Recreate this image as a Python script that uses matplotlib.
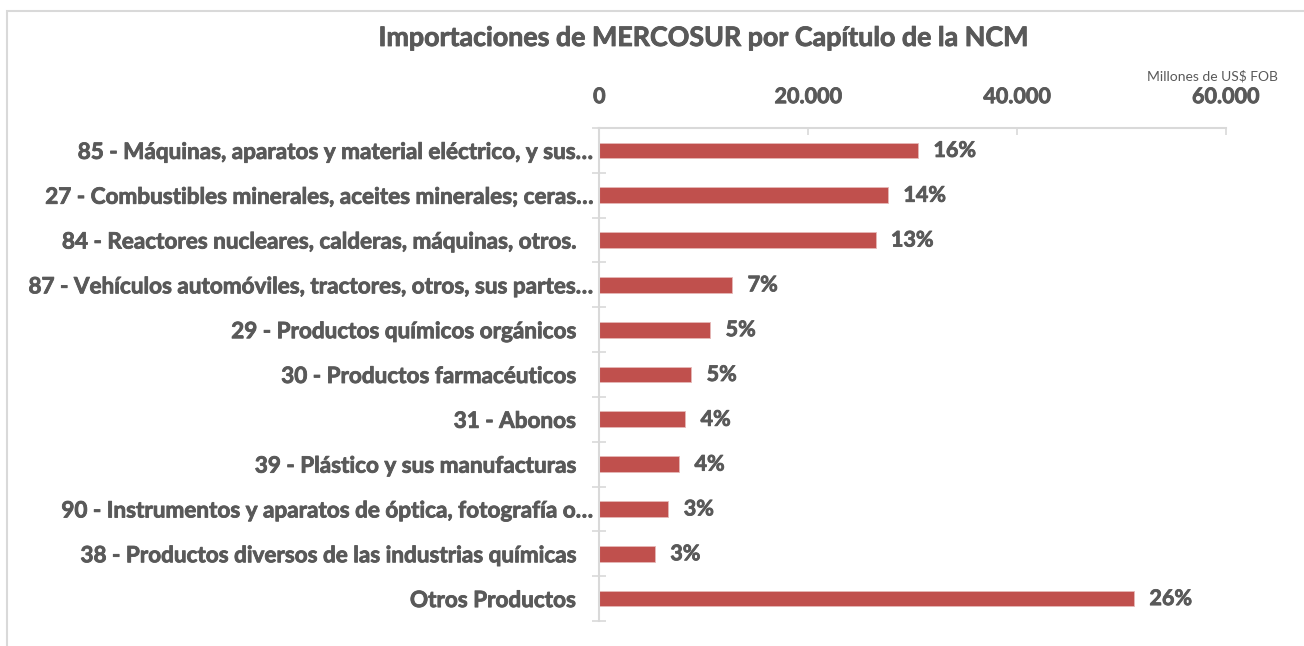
import matplotlib.pyplot as plt
import matplotlib.transforms as mtransforms
import matplotlib.patheffects as pe
from matplotlib.patches import Rectangle
import numpy as np

# chapters of the NCM, top to bottom
categories = [
    "85 - Máquinas, aparatos y material eléctrico, y sus…",
    "27 - Combustibles minerales, aceites minerales; ceras…",
    "84 - Reactores nucleares, calderas, máquinas, otros.",
    "87 - Vehículos automóviles, tractores, otros, sus partes…",
    "29 - Productos químicos orgánicos",
    "30 - Productos farmacéuticos",
    "31 - Abonos",
    "39 - Plástico y sus manufacturas",
    "90 - Instrumentos y aparatos de óptica, fotografía o…",
    "38 - Productos diversos de las industrias químicas",
    "Otros Productos",
]
truncated = [True, True, False, True, False, False, False, False, True, False, False]
values = [30550, 27670, 26480, 12750, 10640, 8820, 8240, 7660, 6630, 5340, 51250]
shares = ["16%", "14%", "13%", "7%", "5%", "5%", "4%", "4%", "3%", "3%", "26%"]
xticks = [0, 20000, 40000, 60000]
xtick_labels = ["0", "20.000", "40.000", "60.000"]

TEXT = "#595959"
BAR = "#C0504D"
GRID = "#D9D9D9"

plt.rcParams['font.family'] = ['Lato', 'DejaVu Sans']

W, H = 1304, 646
fig = plt.figure(figsize=(W / 100, H / 100), dpi=100)
fig.patch.set_facecolor("white")

# make Lato bold look a bit heavier, closer to Calibri bold
heavy = [pe.withStroke(linewidth=0.6, foreground=TEXT)]

# chart border (cut off on the right and bottom like the screenshot)
fig.add_artist(Rectangle((7 / W, -0.1), 1.2, 1 - 11 / H + 0.1, transform=fig.transFigure,
                         fill=False, edgecolor=GRID, linewidth=1.5))

ax = fig.add_axes([599.3 / W, 1 - 621 / H, (1225.5 - 599.3) / W, (621 - 128) / H])
y = np.arange(len(categories))
ax.barh(y, values, height=0.35, color=BAR, edgecolor="#E6B8B7", linewidth=0.6)
ax.set_ylim(len(categories) - 0.5, -0.5)
ax.set_xlim(0, 60000)

# x axis on top
ax.xaxis.tick_top()
ax.set_xticks(xticks)
ax.set_xticklabels(xtick_labels, fontsize=15.5, fontweight="bold", color=TEXT)
ax.tick_params(axis="x", direction="in", length=5, width=1.2, color=GRID, pad=15)

# y axis: labels at centers, cross ticks at boundaries
ax.set_yticks(y)
ax.set_yticklabels(categories, fontsize=16.2, fontweight="bold", color=TEXT)
ax.tick_params(axis="y", length=0, pad=5)
ax.set_yticks(np.arange(-0.5, len(categories)), minor=True)
ax.tick_params(axis="y", which="minor", direction="inout", length=10, width=1.2, color=GRID)
for lab, tr in zip(ax.get_yticklabels(), truncated):
    dx = 0 if tr else -12
    lab.set_transform(lab.get_transform() + mtransforms.ScaledTranslation(dx / 72, 0, fig.dpi_scale_trans))
for lab in ax.get_yticklabels() + ax.get_xticklabels():
    lab.set_path_effects(heavy)

for s in ["right", "bottom"]:
    ax.spines[s].set_visible(False)
for s in ["top", "left"]:
    ax.spines[s].set_color(GRID)
    ax.spines[s].set_linewidth(1.5)

for yi, v, s in zip(y, values, shares):
    ax.annotate(s, (v, yi), xytext=(11, 0), textcoords="offset points",
                ha="left", va="center", fontsize=15.5, fontweight="bold", color=TEXT,
                path_effects=heavy)

fig.text(702 / W, 1 - 38 / H, "Importaciones de MERCOSUR por Capítulo de la NCM",
         ha="center", va="center", fontsize=19.3, fontweight="bold", color=TEXT,
         path_effects=heavy)
fig.text(1278 / W, 1 - 76 / H, "Millones de US$ FOB", ha="right", va="center",
         fontsize=10, color=TEXT)

fig.savefig("out.png", dpi=100)
